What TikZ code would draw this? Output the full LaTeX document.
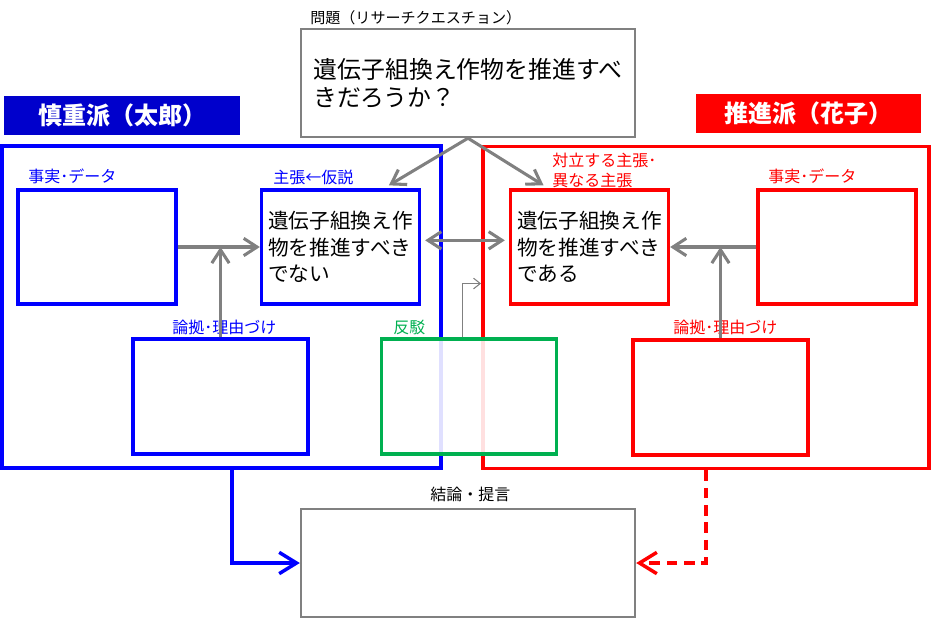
\documentclass[tikz,border=0pt]{standalone}
\usepackage{fontspec}
\setmainfont{Noto Sans CJK JP}
\usetikzlibrary{positioning,arrows.meta,calc}
\definecolor{kblue}{RGB}{0,0,255}
\definecolor{kheadblue}{RGB}{0,0,204}
\definecolor{kred}{RGB}{255,0,0}
\definecolor{kgreen}{RGB}{0,176,80}
\definecolor{kgray}{RGB}{128,128,128}

\begin{document}
\begin{tikzpicture}[x=0.75pt,y=-0.75pt]
	\useasboundingbox (0,0) rectangle (931,619);
	\tikzset{side/.style={draw,line width=2.9pt,minimum height=241.5pt}}

	\edef\cardw{118.5pt}
	\edef\cardh{85.5pt}
	\tikzstyle{card}=[draw,line width=2.5pt,minimum width=\cardw,minimum height=\cardh,inner sep=0pt,align=left,font=\fontsize{15.5}{20}\selectfont]
	\tikzstyle{wide}=[draw,line width=2.5pt,minimum width=131.25pt,minimum height=86.25pt,inner sep=0pt]
	\tikzstyle{head}=[minimum width=177pt,minimum height=29.25pt,text=white,font=\bfseries\fontsize{18}{21}\selectfont]
	\tikzstyle{lbl}=[anchor=west,inner sep=0pt,font=\fontsize{12}{15}\selectfont]
	\tikzstyle{gline}=[draw=kgray,line width=2.3pt,-{Straight Barb[length=10pt,width=13pt]}]

	%% Two sides
	\node[side,draw=kblue,minimum width=329.25pt] (bside) at (221.5,307) {};
	\node[side,draw=kred,minimum width=334.5pt] (rside) at (706,307.5) {};
	\node[head,fill=kheadblue] (bhead) at (122,115.5) {慎重派（太郎）};
	\node[head,fill=kred,minimum width=168.75pt] (rhead) at (808.5,113.5) {推進派（花子）};

	%% Question and conclusion
	\node[lbl,font=\fontsize{11.3}{13}\selectfont] (qlbl) at (310,18) {問題（リサーチクエスチョン）};
	\node[draw=kgray,line width=1.8pt,minimum width=250.5pt,minimum height=81pt,align=left,font=\fontsize{17.9}{21}\selectfont] (qbox) at (468,83) {遺伝子組換え作物を推進すべ\\きだろうか？};
	\node[lbl] (clbl) at (430,494) {結論・提言};
	\node[draw=kgray,line width=1.8pt,minimum width=250.5pt,minimum height=81pt] (concl) at (468,563) {};

	%% Blue side
	\node[card,draw=kblue] (bfact) at (97,247) {};
	\node[card,draw=kblue] (bclaim) at (340.5,247) {遺伝子組換え作\\物を推進すべき\\でない};
	\node[wide,draw=kblue] (breason) at (220.5,396.5) {};
	\node[lbl,text=kblue] at (28,176) {事実･データ};
	\node[lbl,text=kblue] at (273,177) {主張←仮説};
	\node[lbl,text=kblue] at (172,327) {論拠･理由づけ};

	%% Red side
	\node[card,draw=kred] (rclaim) at (589.5,247) {遺伝子組換え作\\物を推進すべき\\である};
	\node[card,draw=kred] (rfact) at (837,247) {};
	\node[wide,draw=kred] (rreason) at (720.5,397.5) {};
	\node[lbl,text=kred,align=left,font=\fontsize{12}{15}\selectfont] at (552,170) {対立する主張･\\異なる主張};
	\node[lbl,text=kred] at (768,176) {事実･データ};
	\node[lbl,text=kred] at (673,327) {論拠･理由づけ};

	%% Rebuttal
	\node[wide,draw=kgreen,fill=white,fill opacity=0.88] (rebut) at (469,396.5) {};
	\node[lbl,text=kgreen] at (393,327) {反駁};

	%% Connectors
	\draw[gline] (bfact) -- (bclaim);
	\draw[gline] (breason.north) -- (breason.north |- bfact.east);
	\draw[gline] (rfact) -- (rclaim);
	\draw[gline] (rreason.north) -- (rreason.north |- rfact.west);
	\draw[gline,{Straight Barb[length=10pt,width=13pt]}-{Straight Barb[length=10pt,width=13pt]},shorten <=3pt,shorten >=3pt] ([yshift=5pt]bclaim.east) -- ([yshift=5pt]rclaim.west);
	\draw[gline] (qbox.south) -- ($(bclaim.north)!0.6!(bclaim.north east)+(0,-3)$);
	\draw[gline] (qbox.south) -- ($(rclaim.north west)!0.43!(rclaim.north)+(0,-3)$);
	\draw[draw=kgray,line width=0.8pt,-{Straight Barb[length=5pt,width=8pt]}] ([xshift=-5pt]rebut.north) |- ([yshift=18pt]rside.west);
	\draw[draw=kblue,line width=2.6pt,-{Straight Barb[length=13pt,width=16pt]}] ([xshift=8pt]bside.south) |- (concl.west);
	\draw[draw=kred,line width=2.6pt,dash pattern=on 8pt off 5pt,-{Straight Barb[length=13pt,width=16pt]}] (rside.south) |- (concl.east);
\end{tikzpicture}
\end{document}
